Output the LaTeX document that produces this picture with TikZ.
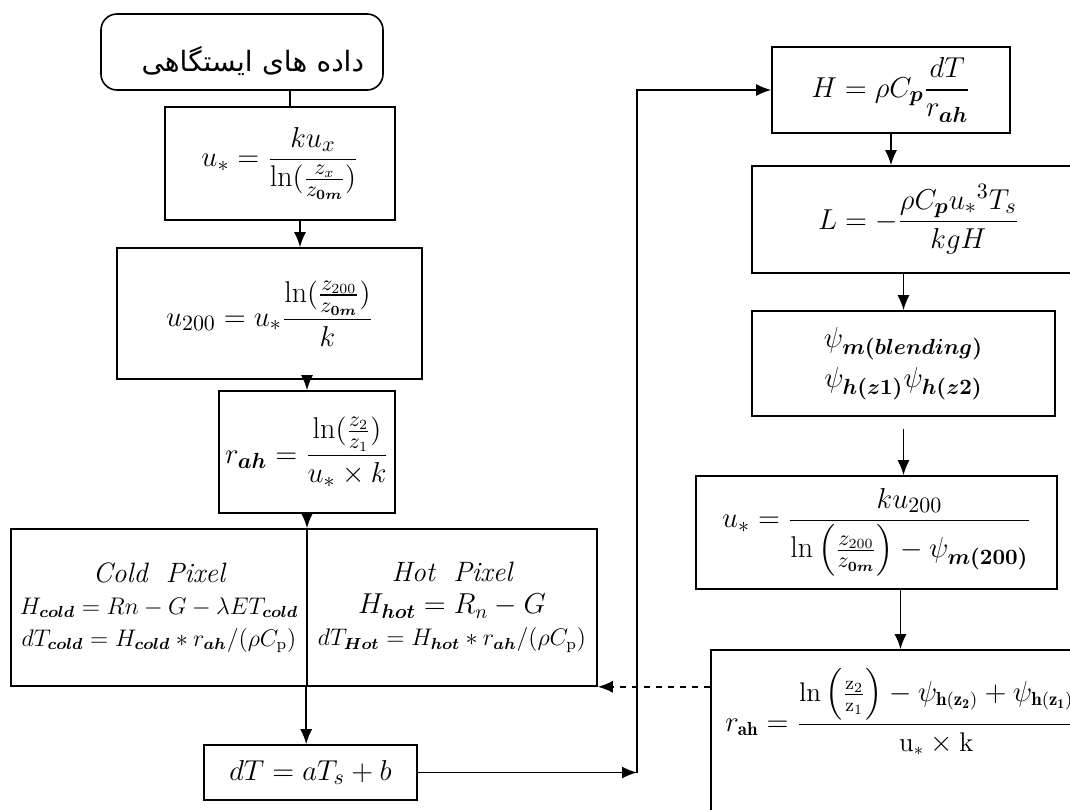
\documentclass[tikz,border=0pt]{standalone}
\usepackage{amsmath}
\usepackage{fontspec}
\usetikzlibrary{arrows.meta}
\newfontfamily\farsifont[Script=Arabic]{DejaVu Sans}
\TeXXeTstate=1

\begin{document}
\begin{tikzpicture}[x=0.5pt,y=-0.5pt,>={Latex[length=7.5pt,width=6pt]},line width=0.8pt,
    box/.style={draw,rectangle,inner sep=2pt,font=\fontsize{15}{18}\selectfont},
    pixel/.style={box,align=center,font=\fontsize{11.5}{16}\selectfont}]
  \useasboundingbox (0,0) rectangle (1070,809);
  \clip (0,0) rectangle (1070,809);

  % left column
  \node[box,rounded corners=8pt,minimum width=141pt,minimum height=38pt,
    text width=122pt,align=right,text height=22pt,font=\fontsize{14}{16}\farsifont] (1) at (242,52)
    {\beginR داده های ایستگاهی\endR};
  \node[box,minimum width=115pt,minimum height=56.5pt] (2) at (280,163.5)
    {$\displaystyle u_* = \frac{k u_x}{\ln(\frac{z_x}{z_{\boldsymbol{0m}}})}$};
  \node[box,minimum width=152.5pt,minimum height=65.5pt] (3) at (269.5,313.5)
    {$\displaystyle u_{200} = u_* \frac{\ln(\frac{z_{200}}{z_{\boldsymbol{0m}}})}{k}$};
  \node[box,minimum width=88pt,minimum height=61pt] (4) at (307,452)
    {$\displaystyle r_{\boldsymbol{ah}} = \frac{\ln(\frac{z_2}{z_1})}{u_* \times k}$};
  \node[pixel,minimum width=148pt,minimum height=78.5pt] (5) at (159,607.5)
    {{\fontsize{14}{18}\selectfont$\mathit{Cold\ \ Pixel}$}\\
     $H_{\boldsymbol{cold}} = Rn - G - \lambda ET_{\boldsymbol{cold}}$\\
     $dT_{\boldsymbol{cold}} = H_{\boldsymbol{cold}} * r_{\boldsymbol{ah}}/(\rho C_{\mathrm{p}})$};
  \node[pixel,minimum width=145pt,minimum height=78.5pt] (6) at (452,607.5)
    {{\fontsize{14}{18}\selectfont$\mathit{Hot\ \ Pixel}$}\\
     {\fontsize{14}{18}\selectfont$H_{\boldsymbol{hot}} = R_n - G$}\\
     $dT_{\boldsymbol{Hot}} = H_{\boldsymbol{hot}} * r_{\boldsymbol{ah}}/(\rho C_{\mathrm{p}})$};
  \node[box,minimum width=106.5pt,minimum height=27.5pt] (7) at (310.5,772.5)
    {$dT = aT_s + b$};
  \coordinate (8) at (637,772.5);

  % right column
  \node[box,minimum width=119pt,minimum height=43pt] (9) at (891,90)
    {$\displaystyle H = \rho C_{\boldsymbol{p}} \frac{dT}{r_{\boldsymbol{ah}}}$};
  \node[box,minimum width=166.5pt,minimum height=53.5pt] (10) at (918.5,219.5)
    {$\displaystyle L = -\frac{\rho C_{\boldsymbol{p}} {u_*}^3 T_s}{kgH}$};
  \node[box,align=center,minimum width=151.5pt,minimum height=52.5pt] (11) at (903.5,363.5)
    {$\psi_{\boldsymbol{m(blending)}}$\\[2pt] $\psi_{\boldsymbol{h(z1)}}\psi_{\boldsymbol{h(z2)}}$};
  \node[box,minimum width=180.5pt,minimum height=56.5pt] (12) at (876.5,532.5)
    {$\displaystyle u_* = \frac{k u_{200}}{\ln\left(\frac{z_{200}}{z_{\boldsymbol{0m}}}\right) - \psi_{\boldsymbol{m(200)}}}$};
  \node[box,minimum width=189.5pt,minimum height=90pt,text depth=40pt,font=\fontsize{13.5}{16}\selectfont] (13) at (900.5,740)
    {$\displaystyle r_{\mathbf{ah}} = \frac{\ln\left(\frac{\mathrm{z}_2}{\mathrm{z}_1}\right) - \psi_{\mathbf{h(z_2)}} + \psi_{\mathbf{h(z_1)}}}{\mathrm{u}_* \times \mathrm{k}}$};

  % connectors
  \draw ([xshift=5pt]2.north) -- ([xshift=5pt]2.north |- 1.south);
  \draw[->] ([xshift=10pt]2.south) -- ([xshift=10pt]2.south |- 3.north);
  \draw[->] (4.north |- 3.south) -- (4.north);
  \draw[->] (4.south) -- (4.south |- 6.north west);
  \draw[->] (6.south west) -- (6.south west |- 7.north);
  \draw[->] (7.east) -- (8);
  \draw[->] (8) |- (9.west);
  \draw[->] (9.south) -- (9.south |- 10.north);
  \draw[->] (11.north |- 10.south) -- (11.north);
  \draw[->] ([yshift=-6pt]11.south) -- (11.south |- 12.north);
  \draw[->] (13.north |- 12.south) -- (13.north);
  \draw[->,dashed] (13.west |- 6.south east) -- (6.south east);
\end{tikzpicture}
\end{document}
